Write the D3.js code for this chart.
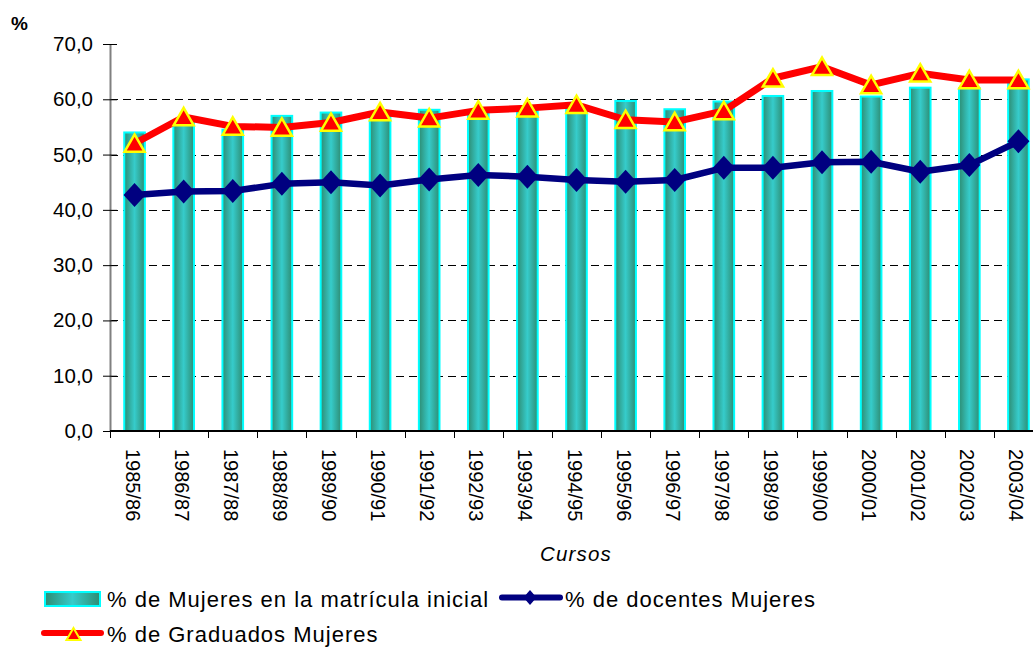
<!DOCTYPE html>
<html lang="es">
<head>
<meta charset="UTF-8">
<title>Mujeres en la universidad</title>
<style>
  body { margin: 0; background: #fff; }
  svg { display: block; font-family: 'Liberation Sans', Arial, sans-serif; }
</style>
<script src="https://d3js.org/d3.v7.min.js"></script>
</head>
<body>
<div id="chart"></div>
<script>
// datos
const cursos = ["1985/86", "1986/87", "1987/88", "1988/89", "1989/90", "1990/91", "1991/92",
  "1992/93", "1993/94", "1994/95", "1995/96", "1996/97", "1997/98", "1998/99", "1999/00",
  "2000/01", "2001/02", "2002/03", "2003/04"];
const matricula = [54.0, 56.0, 54.5, 57.0, 57.6, 57.5, 58.1, 57.6, 58.0, 58.5, 59.7, 58.2,
  59.6, 60.6, 61.5, 60.5, 62.1, 62.0, 63.6];
const docentes = [42.7, 43.3, 43.4, 44.7, 45.0, 44.4, 45.5, 46.3, 46.0, 45.4, 45.1, 45.4,
  47.6, 47.6, 48.6, 48.7, 46.9, 48.1, 52.4];
const graduados = [52.0, 56.8, 55.1, 54.9, 55.8, 57.7, 56.6, 58.0, 58.4, 59.0, 56.3, 55.9,
  57.9, 63.8, 65.9, 62.6, 64.7, 63.5, 63.5];
const yTicks = [0, 10, 20, 30, 40, 50, 60, 70];
const leyenda = ["% de Mujeres en la matrícula inicial", "% de docentes Mujeres", "% de Graduados Mujeres"];

const width = 1033, height = 651;
const svg = d3.select("#chart").append("svg")
  .attr("width", width).attr("height", height);

const x = d3.scaleBand().domain(cursos).range([110, 1043])
  .paddingInner(0.58).paddingOuter(0.29);
const y = d3.scaleLinear().domain([0, 70]).range([431, 44]);
const cx = d => x(d) + x.bandwidth() / 2;
const fmt = v => d3.format(".1f")(v).replace(".", ",");

// degradado de las barras
const defs = svg.append("defs");
const grad = defs.append("linearGradient").attr("id", "barGrad")
  .attr("x1", "0").attr("x2", "1").attr("y1", "0").attr("y2", "0");
grad.append("stop").attr("offset", "0").attr("stop-color", "#2e8c72");
grad.append("stop").attr("offset", "0.5").attr("stop-color", "#36cccb");
grad.append("stop").attr("offset", "1").attr("stop-color", "#2e8c72");

// lineas de division
svg.append("g").selectAll("line")
  .data(yTicks.filter(t => t > 0 && t < 70))
  .join("line")
  .attr("x1", 110).attr("x2", 1033)
  .attr("y1", d => Math.round(y(d)) + 0.5).attr("y2", d => Math.round(y(d)) + 0.5)
  .attr("stroke", "#000").attr("stroke-width", 1)
  .attr("stroke-dasharray", "8,5");

// eje y
const yAxis = svg.append("g").attr("transform", "translate(110,0)")
  .call(d3.axisLeft(y).tickValues(yTicks).tickFormat(fmt).tickSize(7).tickSizeOuter(0));
yAxis.select(".domain").attr("stroke", "#808080").attr("stroke-width", 2);
yAxis.selectAll(".tick line").attr("stroke", "#000").attr("x1", 7).attr("x2", -7);
yAxis.selectAll(".tick text").attr("font-size", 20.5).attr("fill", "#000").attr("x", -17)
  .attr("font-family", "'Liberation Sans', Arial, sans-serif");

// barras
svg.append("g").selectAll("rect")
  .data(matricula)
  .join("rect")
  .attr("x", (d, i) => x(cursos[i]))
  .attr("y", d => y(d))
  .attr("width", x.bandwidth())
  .attr("height", d => y(0) - y(d))
  .attr("fill", "url(#barGrad)")
  .attr("stroke", "#00ffff").attr("stroke-width", 2);

// eje x
const xAxis = svg.append("g").attr("transform", "translate(0,431)");
xAxis.append("line").attr("x1", 110).attr("x2", 1043)
  .attr("stroke", "#000").attr("stroke-width", 2);
xAxis.selectAll("line.tick")
  .data(cursos.concat(["fin"]))
  .join("line").attr("class", "tick")
  .attr("x1", (d, i) => Math.round(110 + i * x.step()) + 0.5)
  .attr("x2", (d, i) => Math.round(110 + i * x.step()) + 0.5)
  .attr("y1", 0).attr("y2", 7).attr("stroke", "#000").attr("stroke-width", 1);
xAxis.selectAll("text")
  .data(cursos)
  .join("text")
  .attr("transform", d => `translate(${cx(d) - 9},${18}) rotate(90)`)
  .attr("font-size", 20).attr("fill", "#000")
  .text(d => d);

svg.append("text").attr("x", 576).attr("y", 561).attr("text-anchor", "middle")
  .attr("font-size", 20.5).attr("font-style", "italic").attr("letter-spacing", 1.2)
  .text("Cursos");
svg.append("text").attr("x", 11).attr("y", 30)
  .attr("font-size", 19).attr("font-weight", "bold").text("%");

// lineas
const line = d3.line().x((d, i) => cx(cursos[i])).y(d => y(d));
svg.append("path").datum(graduados).attr("d", line)
  .attr("fill", "none").attr("stroke", "#ff0000").attr("stroke-width", 7)
  .attr("stroke-linejoin", "round");
svg.append("path").datum(docentes).attr("d", line)
  .attr("fill", "none").attr("stroke", "#000080").attr("stroke-width", 6.5)
  .attr("stroke-linejoin", "round");

const tri = d3.symbol().type(d3.symbolTriangle).size(175);
const dia = "M0,-12L11,0L0,12L-11,0Z";

svg.append("g").selectAll("path")
  .data(graduados)
  .join("path")
  .attr("transform", (d, i) => `translate(${cx(cursos[i])},${y(d) + 2.5})`)
  .attr("d", tri)
  .attr("fill", "#ff0000").attr("stroke", "#ffff00").attr("stroke-width", 2.5);

svg.append("g").selectAll("path")
  .data(docentes)
  .join("path")
  .attr("transform", (d, i) => `translate(${cx(cursos[i])},${y(d)})`)
  .attr("d", dia)
  .attr("fill", "#000080");

// leyenda
const lg = svg.append("g").attr("font-size", 22).attr("letter-spacing", 1);
lg.append("rect").attr("x", 45).attr("y", 592).attr("width", 55).attr("height", 14)
  .attr("fill", "url(#barGrad)").attr("stroke", "#00ffff").attr("stroke-width", 2);
lg.append("text").attr("x", 107).attr("y", 607).text(leyenda[0]);

lg.append("line").attr("x1", 502).attr("x2", 560).attr("y1", 597.5).attr("y2", 597.5)
  .attr("stroke", "#000080").attr("stroke-width", 6).attr("stroke-linecap", "round");
lg.append("path").attr("transform", "translate(530,597.5)").attr("d", "M0,-7.5L6.5,0L0,7.5L-6.5,0Z")
  .attr("fill", "#000080");
lg.append("text").attr("x", 565).attr("y", 607).text(leyenda[1]);

lg.append("line").attr("x1", 44).attr("x2", 101).attr("y1", 633).attr("y2", 633)
  .attr("stroke", "#ff0000").attr("stroke-width", 6).attr("stroke-linecap", "round");
lg.append("path").attr("transform", "translate(73.5,636)")
  .attr("d", d3.symbol().type(d3.symbolTriangle).size(85))
  .attr("fill", "#ff0000").attr("stroke", "#ffff00").attr("stroke-width", 2);
lg.append("text").attr("x", 107).attr("y", 642).text(leyenda[2]);
</script>
</body>
</html>
